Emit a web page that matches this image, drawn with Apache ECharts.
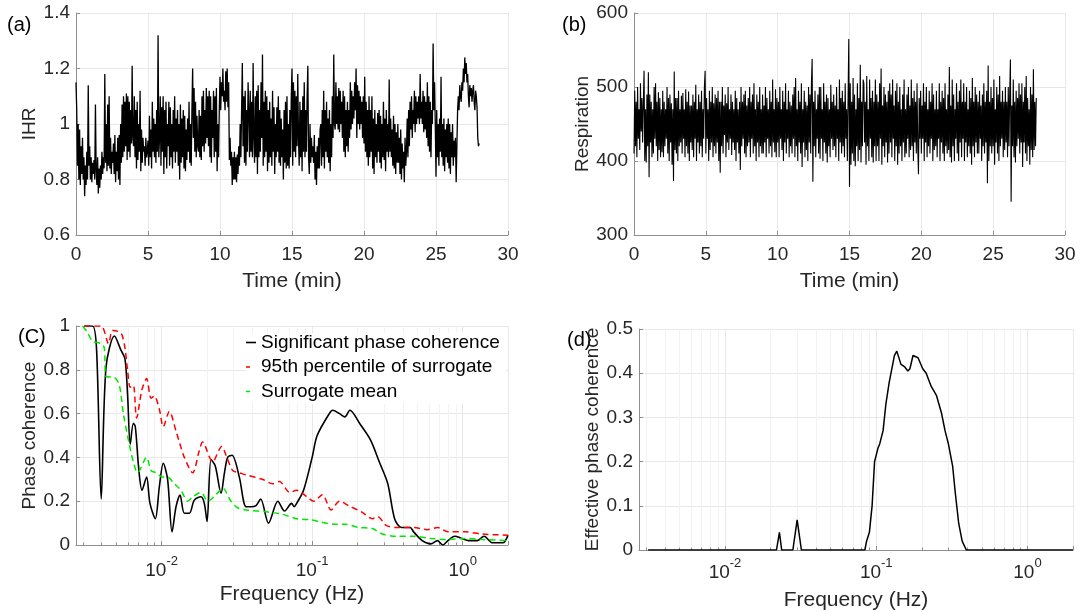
<!DOCTYPE html>
<html><head><meta charset="utf-8">
<script src="https://cdn.jsdelivr.net/npm/echarts@6/dist/echarts.min.js"></script>
<style>html,body{margin:0;padding:0;background:#fff}#c{width:1081px;height:612px}</style>
</head><body><div id="c"></div>
<script>
// ---------- data ----------
const timeStep = 0.05; // minutes between samples
const ihr = [
1.15,1.05,0.85,1.0,0.8,0.98,0.78,0.92,0.82,0.95,0.8,0.88,0.74,0.85,0.78,0.9,0.8,1.14,0.85,0.92,
0.8,0.88,0.79,0.86,0.82,0.87,0.8,1.07,0.83,0.78,0.88,0.75,0.84,0.77,0.85,0.8,0.9,0.82,0.88,0.84,
1.18,0.86,1.0,0.83,1.07,0.85,1.1,0.84,0.95,0.82,0.9,0.86,0.93,0.82,0.96,0.79,0.9,0.83,0.95,0.8,
0.96,0.78,1.0,0.86,1.07,0.88,1.1,0.9,1.08,0.92,1.11,0.87,1.1,0.9,1.08,0.88,1.05,0.93,1.21,0.95,
0.92,1.1,0.88,1.05,0.84,1.08,0.87,1.0,0.9,1.12,0.83,0.98,0.86,0.95,0.9,0.92,0.85,0.95,0.88,0.9,
0.94,0.85,1.03,0.88,0.98,0.84,1.08,0.9,1.02,0.88,1.0,0.86,1.05,0.9,1.32,0.88,0.95,1.1,0.85,1.06,
0.9,1.1,0.82,1.05,0.88,1.08,0.84,1.0,0.92,1.08,0.85,1.06,0.88,1.0,0.84,1.05,0.9,1.1,0.86,1.02,
0.9,1.05,0.85,1.0,0.8,1.07,0.86,1.02,0.88,1.05,0.84,1.03,0.83,0.98,0.87,1.02,0.9,1.08,0.86,1.0,
0.85,1.05,1.2,0.95,1.13,0.9,1.08,0.88,1.03,0.92,0.9,1.05,0.88,1.03,0.87,1.1,0.92,1.12,0.9,1.05,
0.93,1.13,0.95,1.1,0.92,1.12,0.88,1.1,0.86,1.05,0.95,1.12,0.88,1.1,0.9,1.13,0.83,1.0,0.88,1.05,
1.17,1.05,1.15,1.1,1.2,1.08,1.12,1.05,1.19,1.08,1.2,1.06,1.15,0.87,0.95,0.85,0.9,0.78,0.88,0.8,
0.9,0.8,0.88,0.79,0.89,0.82,0.92,0.85,1.0,0.88,1.05,1.22,0.92,1.1,0.86,1.12,0.85,1.05,0.9,1.15,
1.05,0.88,1.12,0.9,1.08,0.88,1.22,0.95,0.86,1.1,0.88,1.12,0.82,1.14,0.88,1.05,0.9,1.15,0.95,1.25,
0.85,1.08,0.88,1.12,0.9,1.1,0.83,1.05,0.86,1.08,0.88,1.02,0.85,1.12,0.9,1.06,0.82,1.0,0.88,1.06,
0.9,1.1,0.86,1.05,0.85,1.02,0.88,0.98,0.8,1.05,0.86,1.08,0.84,1.1,0.85,1.0,0.84,1.05,0.88,1.1,
1.2,0.85,1.15,0.9,1.12,0.88,1.1,0.92,1.18,0.95,0.85,1.08,0.88,1.05,0.83,1.1,0.9,1.15,0.88,1.05,
0.9,1.1,1.21,0.88,0.82,1.0,0.86,0.95,0.88,0.92,0.86,0.96,0.8,0.9,0.78,0.92,0.84,0.95,0.84,0.98,
1.0,0.85,1.05,0.88,1.12,0.84,1.05,0.9,1.08,0.88,1.02,0.86,1.05,0.83,1.0,0.88,1.1,0.95,1.25,1.0,
0.98,1.15,1.0,1.1,0.98,1.13,0.97,1.12,1.0,1.08,0.95,1.12,0.9,1.1,0.88,1.05,0.92,1.08,0.9,1.05,
0.95,1.15,0.98,1.12,1.0,1.1,1.02,1.15,1.05,1.2,0.95,1.14,1.0,1.12,0.98,1.1,1.0,1.08,0.95,1.1,
0.93,1.17,0.9,1.08,0.88,1.05,0.85,1.1,0.88,1.05,0.9,1.1,0.84,1.02,0.82,1.05,0.88,1.0,0.86,1.04,
0.9,1.05,0.86,1.03,0.84,1.0,0.88,1.08,0.87,1.02,0.83,1.05,0.9,1.0,0.88,1.16,0.9,1.02,0.88,0.98,
0.85,1.03,0.84,1.0,0.82,0.97,0.86,1.0,0.86,0.95,0.82,0.98,0.8,0.93,0.84,0.9,0.79,0.95,0.85,0.9,
1.02,0.88,1.05,0.92,1.08,0.98,1.1,0.95,1.05,1.0,1.12,0.97,1.1,1.0,1.08,1.02,1.1,1.0,1.18,1.02,
1.08,1.0,1.12,0.97,1.1,0.98,1.08,0.95,1.15,0.92,1.1,0.9,1.08,0.88,1.05,1.0,1.29,1.05,1.15,1.0,
0.81,1.05,0.88,1.0,0.85,1.02,0.9,1.17,0.88,1.0,0.85,1.02,0.83,0.98,0.88,1.0,0.86,1.02,0.84,1.0,
0.82,0.97,0.88,1.0,0.85,0.94,0.88,0.95,0.79,0.92,1.05,1.1,1.05,1.14,1.1,1.08,1.15,1.12,1.2,1.15,
1.24,1.18,1.22,1.15,1.18,1.1,1.06,1.14,1.1,1.13,1.08,1.12,1.14,1.08,1.05,1.12,1.1,1.06,0.95,0.92,
0.93];
const respiration = [
410,495,420,480,405,500,430,470,415,505,440,485,425,478,522,400,470,398,490,420,
520,378,490,425,480,405,470,410,500,430,505,420,480,400,493,415,485,405,470,412,
495,405,480,420,470,430,500,410,485,400,490,425,478,395,470,373,521,415,485,410,
485,400,495,420,470,425,488,410,492,430,470,405,497,420,480,410,494,400,475,425,
475,415,490,405,480,430,503,400,470,425,490,410,480,420,495,405,470,430,500,522,
410,485,430,470,400,495,415,480,425,500,405,478,420,490,410,485,425,495,400,480,
384,480,420,500,410,475,435,490,405,478,425,500,415,470,430,490,408,480,425,470,
415,495,400,485,425,470,410,480,388,500,420,480,430,490,410,495,405,475,420,485,
425,500,405,480,430,490,410,505,420,470,400,490,425,480,405,500,420,470,410,490,
410,475,425,500,405,485,430,470,410,495,420,480,405,510,425,470,412,497,405,485,
425,480,405,500,430,470,415,495,400,480,425,505,410,470,430,495,405,480,420,475,
410,490,430,500,405,512,420,470,400,495,425,480,410,505,392,470,425,495,405,480,
415,475,400,500,425,490,410,505,538,372,480,420,495,405,470,430,490,410,500,403,
500,430,470,400,505,425,480,410,490,398,485,420,470,405,503,430,480,415,490,420,
475,405,500,430,470,400,510,425,485,410,495,420,480,405,505,430,470,400,485,565,
365,505,395,480,410,512,400,490,393,470,420,505,400,485,415,530,398,480,420,510,
505,425,480,395,515,420,470,400,510,430,485,405,495,398,480,420,510,400,490,420,
480,400,505,430,525,395,475,420,500,405,490,425,480,398,495,410,505,425,490,405,
510,430,475,400,495,420,505,395,480,410,500,420,470,400,490,425,510,405,470,410,
490,430,500,405,475,415,510,420,485,400,495,425,480,410,505,420,382,485,430,495,
410,475,430,505,400,480,425,500,405,470,420,495,410,480,430,505,400,490,415,470,
420,495,405,470,430,505,400,480,425,495,410,485,400,505,420,470,410,490,415,527,
405,475,398,510,420,490,400,470,430,505,410,480,400,495,425,510,405,480,430,505,
400,480,425,500,405,470,420,495,410,485,395,512,420,480,405,500,425,490,410,480,
410,495,430,475,400,490,420,505,410,480,425,495,370,529,400,480,420,500,410,485,
420,510,395,470,425,500,410,490,400,515,420,480,430,495,405,480,415,500,425,480,
405,500,420,490,537,345,475,420,510,405,480,398,495,420,485,430,505,410,490,425,
505,392,480,425,500,410,515,400,485,420,470,395,500,415,490,405,524,415,480,420,
485];

const freqSig = [0.00306,0.00348,0.0037,0.00397,0.00427,0.00486,0.00537,0.00571,0.00594,0.00619,
0.00649,0.00669,0.00703,0.00741,0.00795,0.00837,0.00908,0.00966,0.01026,0.01096,
0.01173,0.01247,0.01325,0.01416,0.01528,0.01649,0.01827,0.01922,0.02004,0.0213,
0.02275,0.02483,0.02612,0.02747,0.02938,0.03283,0.03638,0.03927,0.0424,
0.0455,0.0513,0.0592,0.0656,0.073,0.076,0.0789,0.0877,0.1,0.108,
0.13,0.137,0.152,0.165,0.178,0.209,0.244,0.279,0.318,0.353,
0.392,0.448,0.472,0.538,0.614,0.681,0.738,0.798,0.886,0.984,
1.094,1.247,1.386,1.58,1.85,2.0];
const cohSig = [1.0,1.0,0.89,0.21,0.81,0.954,0.89,0.85,0.69,0.46,
0.556,0.54,0.358,0.25,0.31,0.19,0.12,0.266,0.373,0.30,
0.06,0.175,0.228,0.145,0.145,0.205,0.22,0.19,0.107,0.39,
0.36,0.236,0.327,0.40,0.41,0.31,0.175,0.175,0.18,
0.21,0.10,0.20,0.155,0.19,0.175,0.19,0.25,0.40,0.50,
0.60,0.615,0.60,0.585,0.615,0.55,0.48,0.38,0.28,0.12,
0.08,0.08,0.06,0.02,0.005,0.02,0.0,0.02,0.04,0.03,
0.02,0.02,0.04,0.01,0.01,0.045];

const freqP95 = [0.00306,0.00395,0.00444,0.00472,0.00517,0.00545,0.00571,0.00594,0.00619,0.00649,
0.00682,0.00741,0.00795,0.00851,0.00894,0.00966,0.01026,0.01125,0.01247,0.01325,0.01416,
0.01607,0.01779,0.01871,0.02182,0.02506,0.02681,0.02966,0.03283,0.03638,0.0467,
0.0546,0.0606,0.0711,0.0789,0.0924,0.1026,0.117,0.1335,0.152,0.174,
0.214,0.251,0.272,0.31,0.362,0.472,0.582,0.681,0.798,1.037,
1.35,2.0];
const cohP95 = [1.0,1.0,0.92,0.98,0.975,0.96,0.90,0.80,0.72,0.73,
0.58,0.71,0.76,0.67,0.68,0.62,0.54,0.61,0.52,0.46,0.40,
0.33,0.43,0.47,0.38,0.45,0.41,0.34,0.33,0.32,0.30,
0.28,0.29,0.24,0.25,0.22,0.20,0.23,0.16,0.20,0.18,
0.15,0.12,0.13,0.09,0.08,0.08,0.07,0.08,0.06,0.06,
0.05,0.045];

const freqMean = [0.00299,0.00322,0.00348,0.00395,0.00416,0.00427,0.00486,0.00524,0.00557,0.0061,
0.00649,0.00693,0.00795,0.00851,0.00918,0.01016,0.01096,0.01213,0.01345,0.01489,
0.01607,0.01827,0.02024,0.02298,0.02542,0.02889,0.03199,0.03638,0.0518,0.0638,
0.0789,0.0972,0.114,0.141,0.165,0.204,0.251,0.294,0.362,0.472,
0.614,0.798,1.037,1.35,2.0];
const cohMean = [1.0,0.97,0.93,0.92,0.9,0.77,0.765,0.73,0.6,0.46,
0.38,0.33,0.40,0.34,0.33,0.31,0.31,0.28,0.25,0.20,
0.22,0.24,0.20,0.23,0.26,0.20,0.17,0.16,0.15,0.14,
0.12,0.115,0.105,0.095,0.095,0.08,0.075,0.05,0.04,0.04,
0.03,0.025,0.03,0.025,0.02];

const freqEff = [0.0031,0.0219,0.0229,0.0237,0.0281,0.030,0.032,0.0841,0.0863,0.0901,
0.0939,0.0975,0.1026,0.1054,0.111,0.1158,0.1219,0.1285,0.1318,0.1368,
0.1457,0.1535,0.1618,0.167,0.175,0.189,0.203,0.214,0.231,0.25,
0.27,0.285,0.30,0.32,0.333,0.351,0.37,0.394,2.0];
const cohEff = [0,0,0.04,0,0,0.068,0,0,0.02,0.04,
0.1,0.2,0.23,0.24,0.27,0.33,0.38,0.42,0.44,0.45,
0.42,0.415,0.405,0.41,0.44,0.435,0.41,0.40,0.37,0.35,
0.31,0.27,0.24,0.19,0.13,0.06,0.02,0,0];

const legendNames = ['Significant phase coherence','95th percentile of surrogate','Surrogate mean'];
const panelLabels = ['(a)','(b)','(C)','(d)'];

// ---------- styling ----------
const FONT = '"Liberation Sans", Arial, Helvetica, sans-serif';
const TXT = '#262626';
const AXC = '#8f8f8f';
const GRIDC = '#e8e8e8';
const MINC = '#f2f2f2';
const TICK = 19, TITLE = 21, VTITLE = 19;
const RED = '#ff0000', GREEN = '#00e600';

function pairs(xs, ys){ return ys.map((v,i)=>[xs[i], v]); }
function timed(ys){ return ys.map((v,i)=>[i*timeStep, v]); }

function baseAxis(o){
  return Object.assign({
    axisLine:{show:true, onZero:false, lineStyle:{color:AXC, width:1}},
    axisTick:{show:true, inside:true, length:4, lineStyle:{color:AXC}},
    splitLine:{show:true, lineStyle:{color:GRIDC, width:1}},
    nameTextStyle:{fontFamily:FONT, fontSize:TITLE, color:TXT},
    nameLocation:'middle'
  }, o);
}
function timeAxis(gi){
  return baseAxis({type:'value', gridIndex:gi, min:0, max:30, interval:5,
    name:'Time (min)', nameGap:36,
    axisLabel:{fontFamily:FONT, fontSize:TICK, color:TXT, margin:10}});
}
function logLabel(v){
  const e = Math.log10(v), r = Math.round(e);
  if (Math.abs(e - r) > 1e-6) return '';
  return '{b|10}{s|' + r + '}';
}
function freqAxis(gi, margin, gap){
  return baseAxis({type:'log', logBase:10, gridIndex:gi, min:0.0027, max:2.0,
    name:'Frequency (Hz)', nameGap:gap,
    minorTick:{show:true, splitNumber:9, length:2.5, lineStyle:{color:AXC}},
    minorSplitLine:{show:true, lineStyle:{color:MINC, width:1}},
    axisLabel:{formatter:logLabel, margin:margin, showMinLabel:false, showMaxLabel:false,
      rich:{
        b:{fontFamily:FONT, fontSize:TICK, color:TXT, padding:[6,0,0,0]},
        s:{fontFamily:FONT, fontSize:13, color:TXT, verticalAlign:'top'}
      }}});
}
function yAxisOf(gi, min, max, interval, name, gap){
  return baseAxis({type:'value', gridIndex:gi, min:min, max:max, interval:interval,
    name:name, nameGap:gap,
    nameTextStyle:{fontFamily:FONT, fontSize:VTITLE, color:TXT},
    axisLabel:{fontFamily:FONT, fontSize:TICK, color:TXT, margin:6}});
}

const chart = echarts.init(document.getElementById('c'), null, {renderer:'canvas'});
chart.setOption({
  animation:false,
  backgroundColor:'#fff',
  grid:[
    {left:76, top:13, width:432, height:222},
    {left:634, top:13, width:431, height:222},
    {left:76, top:326, width:432, height:219},
    {left:639, top:329, width:434, height:221}
  ],
  xAxis:[timeAxis(0), timeAxis(1), freqAxis(2, 10, 39), freqAxis(3, 7, 40)],
  yAxis:[
    yAxisOf(0, 0.6, 1.4, 0.2, 'IHR', 27),
    yAxisOf(1, 300, 600, 100, 'Respiration', 36),
    yAxisOf(2, 0, 1, 0.2, 'Phase coherence', 26),
    yAxisOf(3, 0, 0.5, 0.1, 'Effective phase coherence', 31)
  ],
  legend:{
    data:[
      {name:legendNames[0], icon:'path://M0,0H10V1.6H0Z', itemStyle:{color:'#000', borderWidth:0}},
      {name:legendNames[1], icon:'path://M0,0H4V1.6H0Z M10,0L10,1.6Z', itemStyle:{color:RED, borderWidth:0}},
      {name:legendNames[2], icon:'path://M0,0H4V1.6H0Z M10,0L10,1.6Z', itemStyle:{color:GREEN, borderWidth:0}}
    ],
    orient:'vertical', left:246, top:333, itemWidth:10, itemHeight:1.6,
    itemGap:5.5, padding:[0,6,3,0], backgroundColor:'#fff',
    textStyle:{fontFamily:FONT, fontSize:19, color:'#000'}
  },
  graphic:[
    {type:'text', left:7, top:15, style:{text:panelLabels[0], font:'20px '+FONT, fill:'#000'}},
    {type:'text', left:562, top:15, style:{text:panelLabels[1], font:'20px '+FONT, fill:'#000'}},
    {type:'text', left:18, top:327, style:{text:panelLabels[2], font:'20px '+FONT, fill:'#000'}},
    {type:'text', left:567, top:330, style:{text:panelLabels[3], font:'20px '+FONT, fill:'#000'}}
  ],
  series:[
    {type:'line', xAxisIndex:0, yAxisIndex:0, data:timed(ihr), symbol:'none',
      lineStyle:{color:'#000', width:1.3}},
    {type:'line', xAxisIndex:1, yAxisIndex:1, data:timed(respiration), symbol:'none',
      lineStyle:{color:'#000', width:1.1}},
    {type:'line', name:legendNames[0], xAxisIndex:2, yAxisIndex:2, data:pairs(freqSig, cohSig),
      symbol:'none', smooth:0.3, color:'#000', lineStyle:{color:'#000', width:1.6}},
    {type:'line', name:legendNames[1], xAxisIndex:2, yAxisIndex:2, data:pairs(freqP95, cohP95),
      symbol:'none', smooth:0.3, color:RED, lineStyle:{color:RED, width:1.5, type:[6,4]}},
    {type:'line', name:legendNames[2], xAxisIndex:2, yAxisIndex:2, data:pairs(freqMean, cohMean),
      symbol:'none', smooth:0.3, color:GREEN, lineStyle:{color:GREEN, width:1.5, type:[6,4]}},
    {type:'line', xAxisIndex:3, yAxisIndex:3, data:pairs(freqEff, cohEff),
      symbol:'none', lineStyle:{color:'#000', width:1.5}}
  ]
});
</script></body></html>
